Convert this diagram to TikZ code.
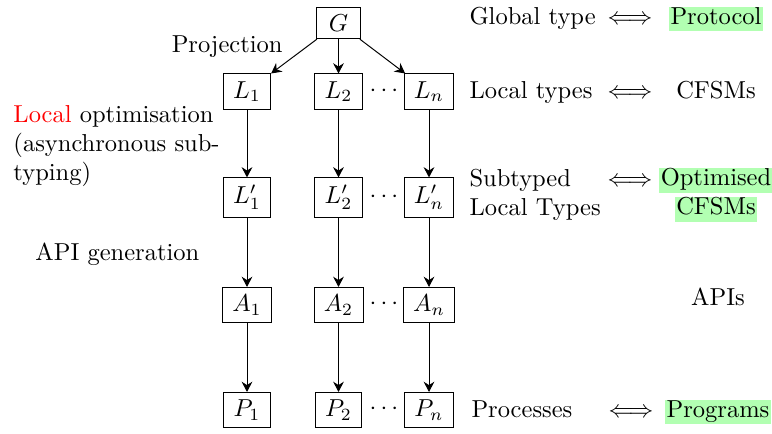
\documentclass[tikz,border=0pt]{standalone}
\usepackage{xcolor}
\usetikzlibrary{arrows.meta}
\newcommand\hlg[1]{{\setlength\fboxsep{0pt}\colorbox{green!30}{\rule[-3pt]{0pt}{10pt}\kern0.6pt#1\kern0.6pt}}}
\tikzset{
  tbox/.style={draw, inner xsep=4pt, inner ysep=3pt, minimum width=18pt},
  lbl/.style={inner sep=0pt},
  dts/.style={inner sep=0pt},
  conn/.style={-{Stealth[length=4.2pt,width=4.4pt,inset=1.4pt]}},
}
\begin{document}
\begin{tikzpicture}[x=0.408pt,y=-0.408pt]
\useasboundingbox (0,0) rectangle (772,433);
% boxes
\node[tbox] (G) at (338.5,23) {$G$};
\node[tbox] (L1) at (247,91.5) {$L_1$};
\node[tbox] (L2) at (338.5,91.5) {$L_2$};
\node[tbox] (Ln) at (429,91.5) {$L_n$};
\node[tbox] (M1) at (247,197.5) {$L'_1$};
\node[tbox] (M2) at (338.5,197.5) {$L'_2$};
\node[tbox] (Mn) at (429,197.5) {$L'_n$};
\node[tbox] (A1) at (247,305) {$A_1$};
\node[tbox] (A2) at (338.5,305) {$A_2$};
\node[tbox] (An) at (429,305) {$A_n$};
\node[tbox] (P1) at (247,410) {$P_1$};
\node[tbox] (P2) at (338.5,410) {$P_2$};
\node[tbox] (Pn) at (429,410) {$P_n$};
% dots
\node[dts] (d1) at (384,91) {$\cdots$};
\node[dts] (d2) at (384,197.5) {$\cdots$};
\node[dts] (d3) at (384,304) {$\cdots$};
\node[dts] (d4) at (384,409) {$\cdots$};
% connectors
\draw[conn] (G) -- (L1);
\draw[conn] (G) -- (L2);
\draw[conn] (G) -- (Ln);
\draw[conn] (L1) -- (M1);
\draw[conn] (L2) -- (M2);
\draw[conn] (Ln) -- (Mn);
\draw[conn] (M1) -- (A1);
\draw[conn] (M2) -- (A2);
\draw[conn] (Mn) -- (An);
\draw[conn] (A1) -- (P1);
\draw[conn] (A2) -- (P2);
\draw[conn] (An) -- (Pn);
% left labels
\node[lbl, anchor=base east] (proj) at (283,52) {Projection};
\node[lbl, anchor=west, align=left] (opt) at (13,146) {\textcolor{red}{Local} optimisation\\(asynchronous sub-\\typing)};
\node[lbl, anchor=base west] (apig) at (35,260) {API generation};
% right labels
\node[lbl, anchor=base west] (gt) at (469,24) {Global type};
\node[lbl, anchor=base] (e1) at (630,24) {$\Longleftrightarrow$};
\node[lbl, anchor=base] (prot) at (716,24) {\hlg{Protocol}};
\node[lbl, anchor=base west] (lt) at (469,98) {Local types};
\node[lbl, anchor=base] (e2) at (630,98) {$\Longleftrightarrow$};
\node[lbl, anchor=base] (cf) at (716,98) {CFSMs};
\node[lbl, anchor=west, align=left] (slt) at (469,195) {Subtyped\\Local Types};
\node[lbl, anchor=base] (e3) at (630,186) {$\Longleftrightarrow$};
\node[lbl, align=center] (ocf) at (716,195) {\hlg{Optimised}\\\hlg{CFSMs}};
\node[lbl] (apis) at (718,297) {APIs};
\node[lbl, anchor=base west] (proc) at (471,417) {Processes};
\node[lbl, anchor=base] (e4) at (631,417) {$\Longleftrightarrow$};
\node[lbl, anchor=base] (prog) at (718,417) {\hlg{Programs}};
\end{tikzpicture}
\end{document}
